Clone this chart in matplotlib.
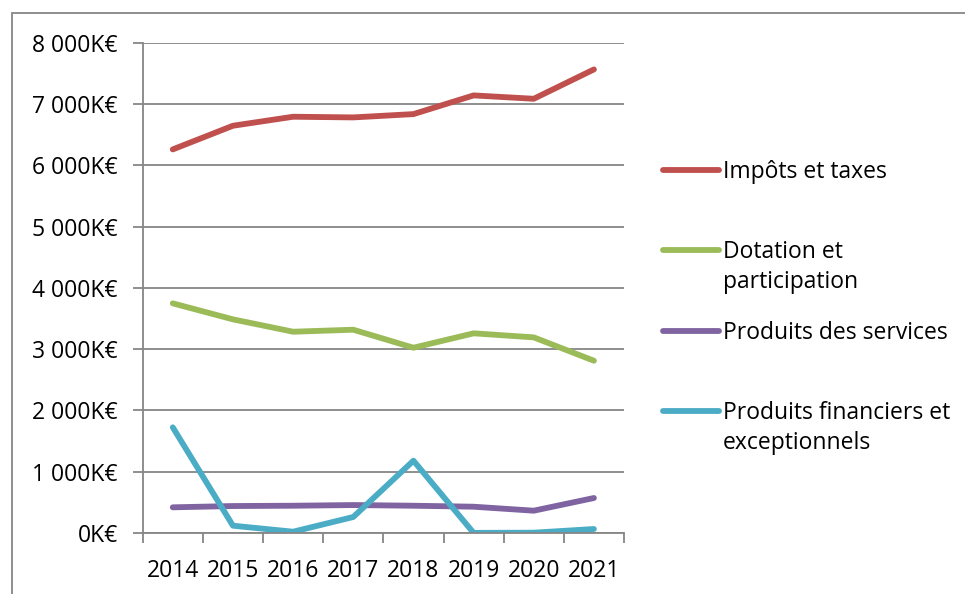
import matplotlib
matplotlib.use("Agg")
import matplotlib.pyplot as plt
from matplotlib.lines import Line2D
from matplotlib.patches import Rectangle
from matplotlib.ticker import FixedLocator, FuncFormatter

plt.rcParams["font.family"] = ["Open Sans", "DejaVu Sans"]

years = ["2014", "2015", "2016", "2017", "2018", "2019", "2020", "2021"]
impots = [6259, 6645, 6792, 6781, 6835, 7140, 7085, 7564]
dotation = [3747, 3486, 3284, 3317, 3023, 3258, 3192, 2811]
services = [419, 440, 445, 456, 445, 429, 364, 571]
financiers = [1724, 119, 21, 261, 1180, 2, 5, 65]

labels = ["Impôts et taxes", "Dotation et\nparticipation",
          "Produits des services", "Produits financiers et\nexceptionnels"]
colors = ["#C0504D", "#9BBB59", "#8064A2", "#4BACC6"]
series = [impots, dotation, services, financiers]

W, H = 965, 594
GRID = "#868686"
FS = 16.5

fig = plt.figure(figsize=(W / 100, H / 100), dpi=100)
ax = fig.add_axes([142.7 / W, 1 - 533 / H, (624 - 142.7) / W, (533 - 42.7) / H])

x = list(range(len(years)))
for vals, col in zip(series, colors):
    ax.plot(x, vals, color=col, lw=4.2, solid_capstyle="round", solid_joinstyle="round")

ax.set_xlim(-0.5, len(years) - 0.5)
ax.set_ylim(0, 8000)
ax.set_yticks(range(0, 8001, 1000))
ax.yaxis.set_major_formatter(FuncFormatter(lambda v, p: f"{v:,.0f}".replace(",", " ") + "K€"))
ax.set_xticks(x)
ax.set_xticklabels(years)
ax.xaxis.set_minor_locator(FixedLocator([i - 0.5 for i in range(len(years) + 1)]))

ax.grid(axis="y", color=GRID, lw=1.3)
ax.set_axisbelow(True)
for s in ["top", "right"]:
    ax.spines[s].set_visible(False)
for s in ["left", "bottom"]:
    ax.spines[s].set_color(GRID)
    ax.spines[s].set_linewidth(1.3)
ax.tick_params(axis="y", length=7, width=1.3, color=GRID, pad=11, labelsize=FS)
ax.tick_params(axis="x", which="major", length=0, pad=19, labelsize=FS)
ax.tick_params(axis="x", which="minor", length=7, width=1.3, color=GRID)

# legend, placed by hand like the Excel one
leg_y = [170, 250, 331, 411]
for lab, col, yy in zip(labels, colors, leg_y):
    yf = 1 - yy / H
    fig.add_artist(Line2D([663 / W, 719 / W], [yf, yf], color=col, lw=4.2,
                          solid_capstyle="round", transform=fig.transFigure))
    fig.text(723 / W, 1 - (yy - 10) / H, lab, fontsize=FS, va="top", ha="left",
             linespacing=1.35, transform=fig.transFigure)

# outer chart frame
fig.add_artist(Rectangle((12 / W, -0.1), 1.2, 1.1 - 13 / H, fill=False,
                         edgecolor=GRID, lw=1.3, transform=fig.transFigure))

fig.savefig("out.png", dpi=100)
